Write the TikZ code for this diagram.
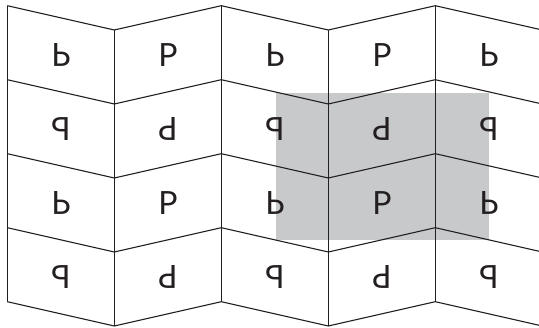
\documentclass[tikz,border=0pt]{standalone}
\usepackage{fontspec}
\setmainfont{Lato}
\usepackage{graphicx}
\definecolor{shade}{RGB}{200,201,203}
\definecolor{ink}{RGB}{35,31,32}
\newcommand{\pUp}{P}
\newcommand{\pFlipV}{\scalebox{1}[-1]{P}}
\newcommand{\pFlipH}{\scalebox{-1}[1]{P}}
\newcommand{\pTurn}{\rotatebox[origin=c]{180}{P}}
\tikzset{
  gridline/.style={line width=1.1pt,draw=ink,line join=miter},
  glyph/.style={font=\fontsize{32}{32}\selectfont,text=ink,inner sep=0pt},
  patch/.style={fill=shade,draw=none},
}

\begin{document}
\begin{tikzpicture}[x=1pt,y=-1pt]
  \useasboundingbox (0,0) rectangle (539,328);
  \clip (0,0) rectangle (539,328);
  % shaded block
  \fill[patch] (276.3,92.7) rectangle (489,240);
  % zigzag rows
  \foreach \j in {0,...,4}{
    \draw[gridline] (7.3,5.7+74*\j) -- (114.3,30+74*\j) -- (221.3,5.7+74*\j)
      -- (328.3,30+74*\j) -- (435.3,5.7+74*\j) -- (542.3,30+74*\j);
  }
  % columns
  \foreach \i in {0,2,4}{
    \draw[gridline] (7.3+107*\i,5.7) -- (7.3+107*\i,301.7);
  }
  \foreach \i in {1,3}{
    \draw[gridline] (7.3+107*\i,30) -- (7.3+107*\i,326);
  }
  % letters
  \foreach \c/\g in {0/\pFlipV,1/\pUp,2/\pFlipV,3/\pUp,4/\pFlipV}
    \node[glyph] (a\c) at (61+107*\c,55) {\g};
  \foreach \c/\g in {0/\pFlipH,1/\pTurn,2/\pFlipH,3/\pTurn,4/\pFlipH}
    \node[glyph] (b\c) at (61+107*\c,129) {\g};
  \foreach \c/\g in {0/\pFlipV,1/\pUp,2/\pFlipV,3/\pUp,4/\pFlipV}
    \node[glyph] (c\c) at (61+107*\c,203) {\g};
  \foreach \c/\g in {0/\pFlipH,1/\pTurn,2/\pFlipH,3/\pTurn,4/\pFlipH}
    \node[glyph] (d\c) at (61+107*\c,277) {\g};
\end{tikzpicture}
\end{document}
